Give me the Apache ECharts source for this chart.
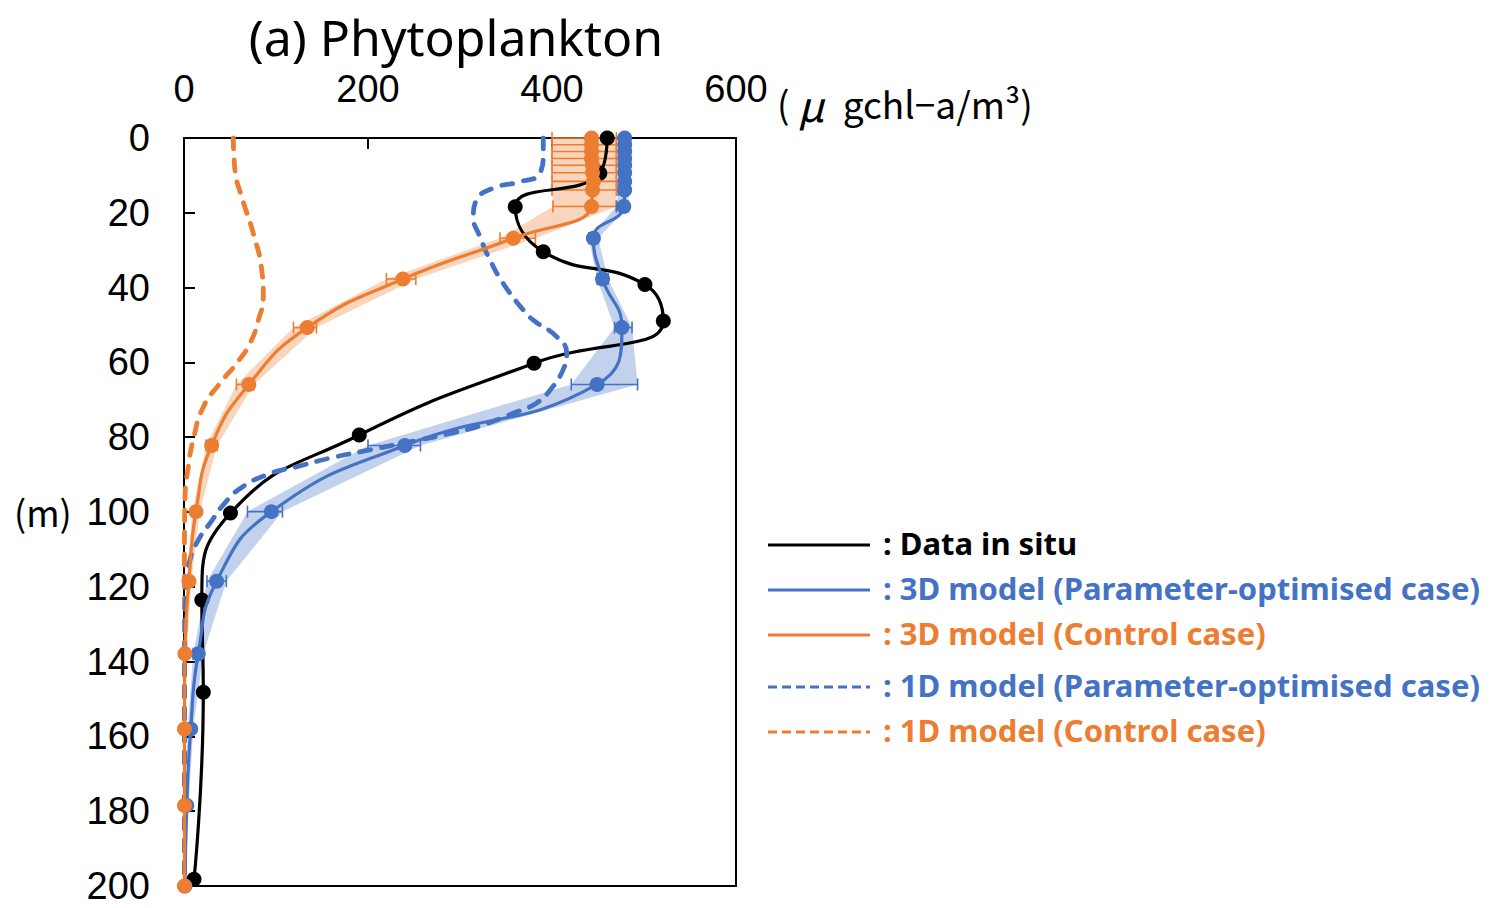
<!DOCTYPE html>
<html>
<head>
<meta charset="utf-8">
<script src="https://cdn.jsdelivr.net/npm/echarts@6/dist/echarts.min.js"></script>
<style>
  html, body { margin: 0; padding: 0; background: #fff; }
  #chart { width: 1505px; height: 908px; }
</style>
</head>
<body>
<div id="chart"></div>
<script>
// Depth of the observation points (m)
const depthSitu = [0, 9.4, 18.4, 30.4, 39.2, 48.9, 60.2, 79.4, 100.3, 123.5, 148.2, 198.2];
// Observed phytoplankton (μg chl-a / m3)
const situ = [460, 452, 360, 390.5, 501, 521, 380.5, 190.5, 50.5, 19.4, 21, 10.9];

// Depth of the 3D model levels (m)
const depthModel = [0, 1.8, 3.6, 5.5, 7.3, 9.3, 11.6, 13.9, 18.3, 26.8, 37.7, 50.7, 65.9, 82.2, 99.9, 118.5, 137.9, 158, 178.5, 200];

// 3D model, parameter-optimised case: mean and spread
const opt3D     = [479, 479, 479, 479, 479, 479, 479, 479, 478, 445, 455, 476, 449, 240, 95, 35.5, 15.5, 7.3, 3, 1];
const opt3DLow  = [477, 477, 477, 476, 476, 475, 474, 472, 470, 440, 449, 468, 421, 200, 69, 25, 10, 4, 1, 0];
const opt3DHigh = [481, 481, 481, 481, 482, 482, 482, 483, 483, 450, 461, 487, 493, 257, 107, 46, 21, 10, 5, 2];

// 3D model, control case: mean and spread
const ctl3D     = [443, 443, 443, 443, 444, 444, 445, 444, 443, 358, 238, 134, 70.5, 30, 13, 5.4, 1, 0.5, 0.5, 0.5];
const ctl3DLow  = [400, 400, 400, 400, 400, 400, 400, 400, 401, 343.5, 220, 119, 57, 24, 9, 3, 0, 0, 0, 0];
const ctl3DHigh = [470, 470, 470, 470, 470, 470, 470, 470, 470, 382, 252, 144, 76, 36, 17, 8, 3, 1, 1, 1];

// 1D model, parameter-optimised case
const depthOpt1D = [0, 3.7, 9.4, 11.7, 13.4, 16.6, 21, 26.4, 32.6, 38.9, 46, 48.7, 53.1, 57.6, 62, 67.4, 70.9, 73.6, 76.7, 79, 80.7, 83.4, 85.6, 87.9, 89.7, 93.7, 98.1, 103, 107.5, 112.8, 120, 132.4, 160, 200];
const opt1D      = [390.5, 390.5, 387, 365, 336, 318, 314.5, 321.7, 332.6, 347, 368.8, 379.7, 405, 416, 412, 398, 383, 358, 325, 289, 256.5, 202, 158.7, 122.5, 93.5, 61, 42.7, 28.3, 15.5, 6.5, 2.9, 1, 0.5, 0.5];

// 1D model, control case
const depthCtl1D = [0, 8.6, 15.7, 25.5, 35.3, 42.4, 48.7, 54.9, 60.2, 65.6, 71.9, 80.7, 87.9, 96.8, 110, 200];
const ctl1D      = [53.6, 55.4, 62.7, 75.3, 84.5, 86.2, 80.8, 71.7, 57.3, 39.1, 21, 10, 4.7, 1, 0.5, 0.5];

// Axis ticks
const xTicks = { min: 0, max: 600, step: 200 };
const yTicks = { min: 0, max: 200, step: 20 };

const BLUE = '#4472C4';
const ORANGE = '#ED7D31';
const NUM_FONT = "'Liberation Sans', Arial, sans-serif";
const JP_FONT = "'Noto Sans CJK JP', 'Noto Sans', sans-serif";
const LEGEND_FONT = "'Noto Sans', Lato, sans-serif";

const pairs = (xs, ys) => xs.map((v, i) => [v, ys[i]]);

// Shaded spread between the low and high profiles
function bandSeries(low, high, depth, fill) {
  return {
    type: 'custom',
    silent: true,
    z: 1,
    data: [[low[0], depth[0]]],
    encode: { x: 0, y: 1 },
    renderItem: (params, api) => {
      const pts = [];
      for (let i = 0; i < depth.length; i++) pts.push(api.coord([low[i], depth[i]]));
      for (let i = depth.length - 1; i >= 0; i--) pts.push(api.coord([high[i], depth[i]]));
      return { type: 'polygon', shape: { points: pts }, style: { fill: fill } };
    }
  };
}

// Horizontal error bars with end caps
function errorSeries(low, high, depth, color) {
  return {
    type: 'custom',
    silent: true,
    z: 3,
    data: depth.map((d, i) => [low[i], high[i], d]),
    encode: { x: [0, 1], y: 2 },
    renderItem: (params, api) => {
      const a = api.coord([api.value(0), api.value(2)]);
      const b = api.coord([api.value(1), api.value(2)]);
      const cap = 6;
      const st = { stroke: color, lineWidth: 1.6 };
      return {
        type: 'group',
        children: [
          { type: 'line', shape: { x1: a[0], y1: a[1], x2: b[0], y2: b[1] }, style: st },
          { type: 'line', shape: { x1: a[0], y1: a[1] - cap, x2: a[0], y2: a[1] + cap }, style: st },
          { type: 'line', shape: { x1: b[0], y1: b[1] - cap, x2: b[0], y2: b[1] + cap }, style: st }
        ]
      };
    }
  };
}

function profileSeries(name, xs, ys, color, opts) {
  return Object.assign({
    name: name,
    type: 'line',
    data: pairs(xs, ys),
    smooth: 0.5,
    symbol: 'circle',
    symbolSize: 15,
    showSymbol: true,
    lineStyle: { color: color, width: 3.2 },
    itemStyle: { color: color },
    z: 5
  }, opts || {});
}

const chart = echarts.init(document.getElementById('chart'), null, { renderer: 'svg' });

// Legend rows: sample line + caption
const legendRows = [
  { y: 545, color: '#000', dash: null, text: ': Data in situ' },
  { y: 590, color: BLUE, dash: null, text: ': 3D model (Parameter-optimised case)' },
  { y: 635, color: ORANGE, dash: null, text: ': 3D model (Control case)' },
  { y: 687, color: BLUE, dash: [9, 5], text: ': 1D model (Parameter-optimised case)' },
  { y: 732, color: ORANGE, dash: [9, 5], text: ': 1D model (Control case)' }
];
const legendGraphics = [];
legendRows.forEach(r => {
  legendGraphics.push({
    type: 'line',
    shape: { x1: 768, y1: r.y, x2: 870, y2: r.y },
    style: { stroke: r.color, lineWidth: 3.2, lineDash: r.dash || null }
  });
  legendGraphics.push({
    type: 'text',
    x: 883, y: r.y - 2,
    style: {
      text: r.text, fill: r.color, font: "bold 31px " + LEGEND_FONT,
      textAlign: 'left', textVerticalAlign: 'middle'
    }
  });
});

const option = {
  animation: false,
  backgroundColor: '#fff',
  grid: {
    left: 184, top: 138, width: 552, height: 748,
    show: true, borderColor: '#000', borderWidth: 2, backgroundColor: 'transparent'
  },
  xAxis: {
    type: 'value', position: 'top',
    min: xTicks.min, max: xTicks.max, interval: xTicks.step,
    axisLine: { show: true, onZero: false, lineStyle: { color: '#000', width: 2 } },
    axisTick: { show: true, inside: true, length: 11, lineStyle: { color: '#000', width: 2 } },
    axisLabel: { color: '#000', fontSize: 38, fontFamily: NUM_FONT, margin: 30 },
    splitLine: { show: false }
  },
  yAxis: {
    type: 'value', inverse: true,
    min: yTicks.min, max: yTicks.max, interval: yTicks.step,
    axisLine: { show: true, onZero: false, lineStyle: { color: '#000', width: 2 } },
    axisTick: { show: true, inside: true, length: 11, lineStyle: { color: '#000', width: 2 } },
    axisLabel: { color: '#000', fontSize: 38, fontFamily: NUM_FONT, margin: 34 },
    splitLine: { show: false }
  },
  graphic: [
    {
      type: 'text', x: 456, y: 37,
      style: { text: '(a) Phytoplankton', fill: '#000', font: "50px 'Noto Sans', sans-serif", textAlign: 'center', textVerticalAlign: 'middle' }
    },
    {
      type: 'text', x: 777, y: 103,
      style: {
        text: '{p|( }{mu|μ}{p|\u2002gchl−a/m³)}',
        textAlign: 'left', textVerticalAlign: 'middle',
        rich: {
          p: { fontSize: 37, fontFamily: JP_FONT, fill: '#000' },
          mu: { fontSize: 42, fontFamily: JP_FONT, fontStyle: 'italic', fill: '#000' }
        }
      }
    },
    {
      type: 'text', x: 14, y: 511,
      style: { text: '(m)', fill: '#000', font: "36px " + JP_FONT, textAlign: 'left', textVerticalAlign: 'middle' }
    }
  ].concat(legendGraphics),
  series: [
    bandSeries(ctl3DLow, ctl3DHigh, depthModel, 'rgba(237,125,49,0.32)'),
    bandSeries(opt3DLow, opt3DHigh, depthModel, 'rgba(68,114,196,0.32)'),
    errorSeries(ctl3DLow, ctl3DHigh, depthModel, ORANGE),
    errorSeries(opt3DLow, opt3DHigh, depthModel, BLUE),
    profileSeries('Data in situ', situ, depthSitu, '#000', { z: 4 }),
    profileSeries('1D model (Control case)', ctl1D, depthCtl1D, ORANGE, {
      symbol: 'none', showSymbol: false, z: 4,
      lineStyle: { color: ORANGE, width: 4.8, type: [11, 11], cap: 'round' }
    }),
    profileSeries('1D model (Parameter-optimised case)', opt1D, depthOpt1D, BLUE, {
      symbol: 'none', showSymbol: false, z: 4,
      lineStyle: { color: BLUE, width: 4.8, type: [11, 11], cap: 'round' }
    }),
    profileSeries('3D model (Parameter-optimised case)', opt3D, depthModel, BLUE, { z: 5 }),
    profileSeries('3D model (Control case)', ctl3D, depthModel, ORANGE, { z: 6 })
  ]
};

chart.setOption(option);
</script>
</body>
</html>
